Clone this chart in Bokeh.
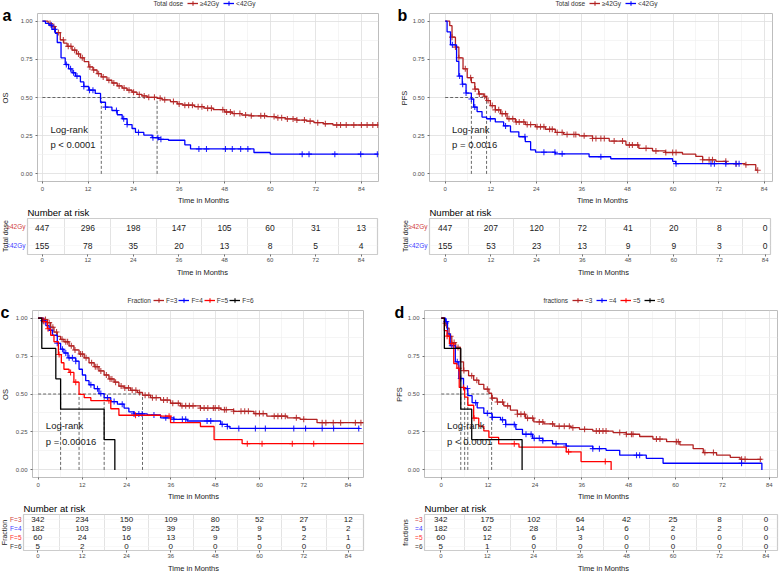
import numpy as np
from math import pi
from bokeh.plotting import figure
from bokeh.models import Range1d, FixedTicker, Legend, LegendItem, PrintfTickFormatter
from bokeh.layouts import column, row
from bokeh.core.properties import value
from bokeh.embed import file_html
from bokeh.resources import INLINE

FONT = "Liberation Sans"

time_ticks = [0, 12, 24, 36, 48, 60, 72, 84]
time_minor = [6, 18, 30, 42, 54, 66, 78]
surv_ticks = [0.0, 0.25, 0.5, 0.75, 1.0]
surv_minor = [0.125, 0.375, 0.625, 0.875]

col_dark = "#B22222"
col_blue = "#0000FF"
col_red = "#FF0000"
col_black = "#000000"

# ---------------- Panel a : OS by total dose ----------------
dose_groups = ["\u226542Gy", "<42Gy"]
a_hi_t = [0, 1.5, 2.5, 3.4, 4.7, 5.6, 6.5, 7.8, 9, 10, 11, 12.2, 13.3, 14.4, 15.5, 17, 18.3, 19.7, 21,
          22.3, 23.6, 24.9, 26.2, 27.6, 30.2, 31.5, 33.7, 35.5, 37, 40, 42.5, 45, 48, 50, 52.5, 55, 59,
          61.5, 64, 67, 69.5, 71.5, 74, 76.5, 88.5]
a_hi_s = [1.0, 0.985, 0.965, 0.925, 0.877, 0.856, 0.835, 0.81, 0.785, 0.76, 0.735, 0.70, 0.68, 0.656,
          0.635, 0.613, 0.595, 0.576, 0.562, 0.548, 0.535, 0.52, 0.51, 0.501, 0.495, 0.485, 0.473, 0.458,
          0.45, 0.44, 0.43, 0.42, 0.405, 0.395, 0.385, 0.38, 0.375, 0.368, 0.36, 0.352, 0.345, 0.335,
          0.328, 0.32, 0.32]
a_hi_cens = [2, 3, 4.2, 5.5, 6.8, 7.5, 8.5, 9.5, 10.5, 12.5, 13.5, 14.8, 16, 17.5, 18.8, 20.2, 21.5,
             22.8, 24, 25.5, 26.8, 28, 29.5, 31, 32.2, 34.5, 36, 37.5, 38.5, 39.5, 41, 42, 43.5, 44.5,
             47.5, 48.5, 49.5, 50.5, 52, 53.5, 55, 57.5, 58.5, 61, 62, 63, 64.5, 66, 67, 69, 70.5, 72.5,
             74.5, 77.5, 78.5, 80, 82, 84, 85.5, 87, 88.3]
a_lo_t = [0, 0.8, 1.7, 2.5, 3.4, 3.9, 4.9, 6, 6.9, 7.8, 8.7, 10, 10.9, 12.2, 13.9, 15.3, 16.6, 18.3,
          19.7, 21, 22.3, 23.6, 24.5, 26.7, 28.9, 30.6, 33.2, 37.5, 39, 55.7, 60, 88.5]
a_lo_s = [1.0, 0.985, 0.974, 0.946, 0.92, 0.86, 0.76, 0.716, 0.688, 0.662, 0.64, 0.602, 0.572, 0.548,
          0.527, 0.469, 0.437, 0.415, 0.387, 0.361, 0.323, 0.297, 0.271, 0.254, 0.237, 0.226, 0.22,
          0.19, 0.163, 0.14, 0.129, 0.129]
a_lo_cens = [2.3, 3.2, 6.3, 7.4, 8.2, 9.1, 10.9, 12.4, 13.3, 16.6, 19.5, 21.4, 22.3, 25.3, 29.1, 30.4,
             31.2, 41.2, 43.2, 48.2, 50, 52.2, 54.1, 68.4, 70.2, 77, 83.8, 88.2]
a_medians = [30.2, 15.5]
a_p = ["Log-rank", "p < 0.0001"]
a_risk_hi = [447, 296, 198, 147, 105, 60, 31, 13]
a_risk_lo = [155, 78, 35, 20, 13, 8, 5, 4]

# ---------------- Panel b : PFS by total dose ----------------
b_hi_t = [0, 1.2, 1.8, 2.7, 3.6, 4.7, 5.8, 6.9, 7.8, 8.8, 10.2, 10.9, 11.9, 13.2, 14.6, 16.3, 18.5,
          21.1, 23.8, 26.4, 29.0, 31.2, 35.3, 38.8, 43.2, 47.6, 51, 54.6, 58, 62.5, 66, 67.8, 71.3, 74,
          79, 81.8, 82.3]
b_hi_s = [1.0, 0.97, 0.895, 0.83, 0.76, 0.688, 0.63, 0.598, 0.555, 0.523, 0.508, 0.48, 0.447, 0.419,
          0.394, 0.361, 0.34, 0.323, 0.308, 0.292, 0.271, 0.258, 0.249, 0.232, 0.215, 0.189, 0.167,
          0.15, 0.14, 0.129, 0.114, 0.092, 0.082, 0.067, 0.06, 0.024, 0.024]
b_hi_cens = [1.8, 2.7, 3.6, 5.3, 6.7, 7.9, 9.0, 10.4, 11.3, 12.4, 13.2, 14.1, 15.0, 15.9, 16.8, 17.8,
             18.7, 19.5, 20.7, 21.6, 22.5, 24.2, 25.1, 26.0, 27.5, 28.2, 29.5, 30.8, 32.1, 33.9, 34.4,
             36.6, 38.8, 39.7, 41, 41.9, 44.5, 46.7, 48.5, 49.3, 50.7, 52.9, 55.5, 58.1, 59.9, 60.8,
             67.8, 69.5, 70.4, 73.9, 76.6, 79.2, 82.3]
b_lo_t = [0, 0.5, 1.4, 3.0, 3.6, 4.5, 5.5, 6.9, 7.5, 8.4, 9.7, 10.9, 13.2, 15.4, 17.2, 19.4, 21.1,
          22.5, 23.8, 29, 37.9, 43.6, 59.9, 60.7, 77.5]
b_lo_s = [1.0, 0.93, 0.845, 0.737, 0.64, 0.587, 0.529, 0.49, 0.437, 0.408, 0.372, 0.361, 0.34, 0.314,
          0.275, 0.243, 0.211, 0.157, 0.142, 0.131, 0.112, 0.099, 0.082, 0.067, 0.067]
b_lo_cens = [1.9, 3.8, 4.6, 5.5, 6.9, 7.8, 11.9, 15.9, 21.0, 26.0, 28.9, 30.8, 41, 60.8, 70, 70.9,
             73.9, 76.6, 77.4]
b_medians = [10.9, 6.9]
b_p = ["Log-rank", "p = 0.0016"]
b_risk_hi = [447, 207, 120, 72, 41, 20, 8, 0]
b_risk_lo = [155, 53, 23, 13, 9, 9, 3, 0]

# ---------------- Panel c : OS by fraction ----------------
frac_groups_c = ["F=3", "F=4", "F=5", "F=6"]
c3_t = [0, 1.6, 2.5, 3.4, 4.3, 5.2, 6.1, 7.0, 8.4, 9.7, 11.1, 12.5, 13.8, 15.2, 16.5, 17.9, 19.2, 20.6,
        21.9, 23.3, 25.1, 26.9, 28.3, 30.5, 33.2, 35.9, 38.6, 44, 49.5, 53, 58.5, 62, 67.5, 71, 75.6, 88.2]
c3_s = [1.0, 0.99, 0.97, 0.94, 0.908, 0.88, 0.86, 0.844, 0.817, 0.79, 0.763, 0.738, 0.706, 0.68, 0.652,
        0.625, 0.599, 0.578, 0.552, 0.54, 0.524, 0.51, 0.492, 0.476, 0.46, 0.439, 0.422, 0.407, 0.397,
        0.386, 0.371, 0.354, 0.343, 0.333, 0.311, 0.311]
c3_cens = [2, 3, 4, 5, 6.5, 7.5, 8, 9, 10, 11.5, 12, 13, 14.5, 15.5, 16, 17, 18.5, 19.5, 20, 21, 22.5,
           23.5, 24.5, 25.5, 26.5, 27.5, 29, 30, 31, 32, 34, 35, 36.5, 38, 39, 40, 41, 42, 44, 45, 46,
           47.5, 48, 49, 50.5, 51, 53, 55, 56, 57, 59, 60, 61, 64, 65, 66, 67, 70, 72, 77, 78, 80, 82,
           86, 87.5]
c4_t = [0, 1.2, 2.1, 3.0, 3.9, 5.2, 6.1, 7.0, 8.1, 10.2, 11.1, 12.0, 12.9, 13.8, 15.2, 16.5, 17.9, 19.7,
        21.5, 23.3, 24.6, 26, 29.6, 33.2, 36.8, 40.4, 49.5, 51.3, 52, 87.2]
c4_s = [1.0, 0.983, 0.95, 0.92, 0.887, 0.834, 0.795, 0.77, 0.738, 0.716, 0.663, 0.625, 0.588, 0.561,
        0.535, 0.503, 0.476, 0.45, 0.433, 0.407, 0.382, 0.369, 0.362, 0.343, 0.333, 0.322, 0.30, 0.286,
        0.273, 0.273]
c4_cens = [1.4, 3.4, 5.2, 6.6, 7.5, 8.4, 9.3, 10.2, 14.3, 16.1, 17, 18.8, 20.6, 22.8, 26, 27.3, 28.2,
           31.4, 34.6, 36.8, 39.1, 40, 45.8, 46.8, 49.9, 51.3, 54.4, 58.9, 61.6, 69.3, 72.5, 77, 80.1, 86.9]
c5_t = [0, 1.2, 2.5, 3.4, 4.3, 5.5, 6.3, 7.0, 8.4, 9.7, 11.1, 12.5, 14.3, 19.7, 21.9, 33.2, 35.9, 44,
        47.7, 55.3, 88.3]
c5_s = [1.0, 0.977, 0.93, 0.887, 0.844, 0.76, 0.706, 0.663, 0.642, 0.578, 0.497, 0.476, 0.456, 0.403,
        0.36, 0.354, 0.311, 0.286, 0.2, 0.173, 0.173]
c5_cens = [1.6, 2.7, 5.7, 8.8, 10.2, 19.2, 26.4, 35.5, 56.7, 60.7, 68.9, 74.7]
c6_t = [0, 1.0, 4.8, 6.1, 17.9, 20.8]
c6_s = [1.0, 0.8, 0.6, 0.4, 0.2, 0.0]
c6_cens = []
c_medians = [28.3, 17.9, 11.1, 6.1]
c_p = ["Log-rank", "p = 0.00016"]
c_risk = [[342, 234, 150, 109, 80, 52, 27, 12],
          [182, 103, 59, 39, 25, 9, 5, 2],
          [60, 24, 16, 13, 9, 5, 2, 1],
          [5, 2, 0, 0, 0, 0, 0, 0]]

# ---------------- Panel d : PFS by fractions ----------------
frac_groups_d = ["=3", "=4", "=5", "=6"]
d3_t = [0, 0.9, 1.4, 2.0, 2.7, 3.7, 4.9, 5.7, 7.0, 8.3, 9.6, 10.9, 12.2, 12.9, 14.3, 16, 17.7, 19.5,
        21.6, 23.7, 26.3, 28.9, 33.2, 35.4, 38.8, 44, 47.4, 50.8, 54.2, 57.7, 61.1, 64.5, 67.1, 70.5,
        74, 76.5, 82.1]
d3_s = [1.0, 0.966, 0.934, 0.88, 0.839, 0.807, 0.712, 0.654, 0.621, 0.591, 0.564, 0.532, 0.505, 0.473,
        0.447, 0.422, 0.394, 0.367, 0.341, 0.316, 0.303, 0.288, 0.278, 0.267, 0.256, 0.246, 0.235, 0.22,
        0.203, 0.186, 0.165, 0.14, 0.114, 0.097, 0.083, 0.07, 0.07]
d3_cens = [1.1, 2.4, 3.3, 4.3, 5.8, 7.8, 9.1, 11.8, 13.1, 14.4, 15.7, 17, 19.5, 20.4, 21.3, 22.1, 23.4,
           25.1, 26, 28.5, 30.2, 31.5, 32.8, 33.7, 36.7, 39.7, 40.5, 41.4, 42.2, 45.7, 47.4, 48.7, 49.1,
           55.1, 56, 60.2, 60.7, 67.5, 69.7, 76.9, 77.8, 81.7]
d4_t = [0, 1.1, 1.6, 2.3, 3.6, 4.5, 5.7, 6.8, 7.9, 9.2, 10.9, 13.0, 15.2, 16.5, 19.1, 20.8, 23.4, 26,
        28.5, 32, 38.8, 42.2, 45.7, 52.5, 56.8, 82.1]
d4_s = [1.0, 0.977, 0.896, 0.818, 0.712, 0.602, 0.536, 0.489, 0.443, 0.409, 0.373, 0.346, 0.33, 0.299,
        0.267, 0.235, 0.208, 0.193, 0.172, 0.157, 0.14, 0.129, 0.097, 0.076, 0.044, 0.0]
d4_cens = [1.3, 2.7, 4.1, 5.0, 6.7, 8.8, 11.8, 13.1, 15.7, 16.5, 18.7, 21.7, 23, 23.8, 25.1, 26, 29.4,
           32, 38.8, 40.5, 50, 50.8, 76.9]
d5_t = [0, 0.8, 1.5, 2.1, 3.2, 4.0, 4.6, 6.0, 6.8, 8.3, 9.6, 10.9, 12.2, 14.7, 19.9, 32, 35.8, 43.5]
d5_s = [1.0, 0.917, 0.881, 0.832, 0.701, 0.67, 0.543, 0.479, 0.426, 0.341, 0.288, 0.257, 0.214, 0.172,
        0.15, 0.119, 0.055, 0.0]
d5_cens = [1.5, 2.7, 4.5, 5.7, 8.4, 18.7, 32.6, 42]
d6_t = [0, 0.8, 5.0, 7.8, 20.7]
d6_s = [1.0, 0.8, 0.4, 0.2, 0.0]
d6_cens = []
d_medians = [12.9, 6.8, 6.0, 5.0]
d_p = ["Log-rank", "p < 0.0001"]
d_risk = [[342, 175, 102, 64, 42, 25, 8, 0],
          [182, 62, 28, 14, 6, 2, 2, 0],
          [60, 12, 6, 3, 0, 0, 0, 0],
          [5, 1, 0, 0, 0, 0, 0, 0]]

table_cols_2 = ["#D04040", "#4040FF"]
table_cols_4 = ["#D04040", "#4040FF", "#FF3030", "#333333"]
XLAB = "Time in Months"


def step_lookup(t_steps, s_steps, times):
    if len(times) == 0:
        return []
    idx = np.searchsorted(np.asarray(t_steps), np.asarray(times), side="right") - 1
    idx = np.clip(idx, 0, len(s_steps) - 1)
    return [float(v) for v in np.asarray(s_steps)[idx]]


def style_axis(ax):
    ax.axis_line_color = None
    ax.major_tick_line_color = "#333333"
    ax.major_tick_line_width = 0.7
    ax.major_tick_out = 2
    ax.major_tick_in = 0
    ax.minor_tick_line_color = None
    ax.major_label_text_font = FONT
    ax.major_label_text_font_size = "6px"
    ax.major_label_text_color = "#4D4D4D"
    ax.major_label_standoff = 1


def blank_fig(width, height, x0, x1, y_range=None, bt=0, bb=0):
    p = figure(width=width, height=height, x_range=Range1d(x0, x1),
               y_range=y_range if y_range is not None else Range1d(0, height),
               output_backend="svg", toolbar_location=None,
               x_axis_location=None, y_axis_location=None,
               min_border_left=0, min_border_right=0, min_border_top=bt, min_border_bottom=bb)
    p.grid.visible = False
    p.outline_line_color = None
    return p


def xlab_fig(x0, height, cx, size):
    f = blank_fig(392 - x0, height, x0, 392)
    f.text(x=[cx], y=[height / 2], text=[XLAB], text_font=value(FONT), text_font_size=size,
           text_color="#1A1A1A", text_align="center", text_baseline="middle")
    return row(f)


def header(x0, height, title, title_x, names, colors, leg_x, spacing, cy):
    h = blank_fig(392 - x0, height, x0, 392)
    h.text(x=[title_x], y=[cy], text=[title], text_font=value(FONT),
           text_font_size="6.5px", text_color="#333333", text_baseline="middle")
    items = []
    for nm, c in zip(names, colors):
        # legend proxies, kept outside the visible header area
        lr = h.line(x=[-1000, -999], y=[-1000, -1000], line_color=c, line_width=1.3)
        sr = h.scatter(x=[-1000], y=[-1000], marker="cross", size=6, line_color=c, line_width=1.1)
        items.append(LegendItem(label=nm, renderers=[lr, sr]))
    leg = Legend(items=items, orientation="horizontal", location=(leg_x - x0, cy - 6),
                 label_text_font=FONT, label_text_font_size="6.5px", label_text_color="#333333",
                 glyph_width=11, glyph_height=12, label_height=8, label_width=10,
                 label_standoff=2, spacing=spacing, padding=0, margin=0,
                 border_line_color=None, background_fill_alpha=0)
    h.add_layout(leg)
    return row(h)


def km_block(letter, letter_x, ylab, lab_w, lab_x, hdr_h, leg_title, title_x, names, leg_x, spacing,
             colors, curves, cens, medians, ptext, km_h, bl, br, bb, xr, ptx, xlab_h, xlab_cx):
    width = 392 - lab_w
    p = figure(width=width, height=km_h, x_range=Range1d(*xr), y_range=Range1d(-0.05, 1.05),
               output_backend="svg", toolbar_location=None,
               min_border_left=bl, min_border_right=br, min_border_top=1, min_border_bottom=bb)
    p.outline_line_color = "#BDBDBD"
    p.outline_line_width = 1
    p.xaxis.ticker = FixedTicker(ticks=time_ticks, minor_ticks=time_minor)
    p.yaxis.ticker = FixedTicker(ticks=surv_ticks, minor_ticks=surv_minor)
    p.yaxis.formatter = PrintfTickFormatter(format="%.2f")
    style_axis(p.xaxis[0])
    style_axis(p.yaxis[0])
    for g in (p.xgrid[0], p.ygrid[0]):
        g.grid_line_color = "#DEDEDE"
        g.grid_line_width = 0.8
        g.minor_grid_line_color = "#EFEFEF"
        g.minor_grid_line_width = 0.6

    p.segment(x0=[0], y0=[0.5], x1=[max(medians)], y1=[0.5], line_color="#444444",
              line_width=0.8, line_dash="3 2")
    p.segment(x0=medians, y0=[0] * len(medians), x1=medians, y1=[0.5] * len(medians),
              line_color="#444444", line_width=0.8, line_dash="3 2")

    for c, (tt, ss), ct in zip(colors, curves, cens):
        p.step(tt, ss, mode="after", line_color=c, line_width=1.3)
        cy = step_lookup(tt, ss, ct)
        p.scatter(ct, cy, marker="cross", size=6, line_color=c, line_width=1.1, line_alpha=0.85)

    p.text(x=[ptx, ptx], y=[0.29, 0.19], text=ptext, text_font=value(FONT),
           text_font_size="9.5px", text_color="#1A1A1A", text_baseline="middle")

    total_h = hdr_h + km_h + xlab_h
    lf = blank_fig(lab_w, total_h, 0, lab_w)
    fh = km_h - 1 - bb
    lf.text(x=[lab_x], y=[xlab_h + bb + fh / 2], text=[ylab], text_font=value(FONT),
            text_font_size="7.5px", text_color="#1A1A1A", text_align="center",
            text_baseline="middle", angle=pi / 2)
    lf.text(x=[letter_x], y=[total_h - hdr_h - 3], text=[letter], text_font=value(FONT),
            text_font_size="16px", text_font_style="bold", text_color="#000000",
            text_baseline="alphabetic")
    hdr = header(lab_w, hdr_h, leg_title, title_x, names, colors, leg_x, spacing, hdr_h - 3 if hdr_h < 20 else 9)
    xl = xlab_fig(lab_w, xlab_h, xlab_cx, "7.5px")
    return row(lf, column(hdr, row(p), xl))


def risk_block(ylab, names, colors, counts, lab_w, br, tab_h, bt, bb, xr, fs, ylab_x, xlab_cx):
    n = len(names)
    width = 392 - lab_w
    yr = Range1d(0.5, n + 0.5)
    total_h = 72
    xlab_h = total_h - tab_h
    p = figure(width=width, height=tab_h, x_range=Range1d(*xr), y_range=yr,
               output_backend="svg", toolbar_location=None,
               min_border_left=1, min_border_right=br, min_border_top=bt, min_border_bottom=bb)
    p.outline_line_color = "#CCCCCC"
    p.outline_line_width = 1.2
    p.yaxis.visible = False
    p.xaxis.ticker = FixedTicker(ticks=time_ticks)
    style_axis(p.xaxis[0])
    p.xgrid.ticker = FixedTicker(ticks=time_minor)
    p.xgrid.grid_line_color = "#DCDCDC"
    p.xgrid.grid_line_width = 0.8
    p.ygrid.ticker = FixedTicker(ticks=list(range(1, n + 1)))
    p.ygrid.grid_line_color = "#F3F3F3"
    p.ygrid.grid_line_width = 0.6
    p.title.text = "Number at risk"
    p.title.text_font = FONT
    p.title.text_font_size = "9.5px"
    p.title.text_font_style = "normal"
    p.title.text_color = "#000000"
    p.title.align = "left"
    p.title.standoff = 1
    rows = list(range(n, 0, -1))
    for yv, vals in zip(rows, counts):
        p.text(x=time_ticks, y=[yv] * len(time_ticks), text=[str(v) for v in vals],
               text_font=value(FONT), text_font_size=fs, text_color="#222222",
               text_align="center", text_baseline="middle")

    fh = tab_h - bt - bb
    lf = blank_fig(lab_w, total_h, 0, lab_w, y_range=yr, bt=bt, bb=total_h - bt - fh)
    for yv, nm, c in zip(rows, names, colors):
        lf.text(x=[lab_w - 1], y=[yv], text=[nm], text_font=value(FONT), text_font_size="6.5px",
                text_color=c, text_align="right", text_baseline="middle")
    lf.text(x=[ylab_x], y=[(n + 1) / 2], text=[ylab], text_font=value(FONT), text_font_size="7px",
            text_color="#1A1A1A", text_align="center", text_baseline="middle", angle=pi / 2)
    xl = xlab_fig(lab_w, xlab_h, xlab_cx, "7.5px")
    return row(lf, column(row(p), xl))


pa = km_block("a", 2, "OS", 12, 5, 12, "Total dose", 153, dose_groups, 187, 4,
              [col_dark, col_blue], [(a_hi_t, a_hi_s), (a_lo_t, a_lo_s)],
              [a_hi_cens, a_lo_cens], a_medians, a_p, 181, 25, 14, 11, (-1.3, 88.5), 2.1, 11, 203)
pb = km_block("b", 5, "PFS", 17, 12, 12, "Total dose", 163, dose_groups, 197, 4,
              [col_dark, col_blue], [(b_hi_t, b_hi_s), (b_lo_t, b_lo_s)],
              [b_hi_cens, b_lo_cens], b_medians, b_p, 181, 20, 12, 11, (-4.13, 86.2), 1.8, 11, 210)
pc = km_block("c", 0, "OS", 12, 5, 33, "Fraction", 127, frac_groups_c, 153, 1,
              [col_dark, col_blue, col_red, col_black],
              [(c3_t, c3_s), (c4_t, c4_s), (c5_t, c5_s), (c6_t, c6_s)],
              [c3_cens, c4_cens, c5_cens, c6_cens], c_medians, c_p, 180, 20, 29, 11,
              (-1.52, 88.2), 2.1, 11, 193)
pd = km_block("d", 2, "PFS", 12, 7, 33, "fractions", 151, frac_groups_d, 180, 1,
              [col_dark, col_blue, col_red, col_black],
              [(d3_t, d3_s), (d4_t, d4_s), (d5_t, d5_s), (d6_t, d6_s)],
              [d3_cens, d4_cens, d5_cens, d6_cens], d_medians, d_p, 180, 20, 7, 11,
              (-4.29, 86.1), 1.5, 11, 211)

ta = risk_block("Total dose", dose_groups, table_cols_2, [a_risk_hi, a_risk_lo],
                26, 15, 61, 13, 11, (-3.87, 88.29), "8.5px", 5, 202)
tb = risk_block("Total dose", dose_groups, table_cols_2, [b_risk_hi, b_risk_lo],
                36, 14, 61, 13, 11, (-4.12, 85.4), "8.5px", 13, 211)
tc = risk_block("Fraction", frac_groups_c, table_cols_4, c_risk,
                22, 29, 61, 14, 11, (-3.87, 88.14), "8px", 4, 193)
td = risk_block("fractions", frac_groups_d, table_cols_4, d_risk,
                31, 7, 61, 14, 11, (-4.21, 87.0), "8px", 13, 211)

left = column(pa, ta, pc, tc)
right = column(pb, tb, pd, td)
layout = row(left, right)
open("out.html", "w").write(file_html(layout, INLINE))
